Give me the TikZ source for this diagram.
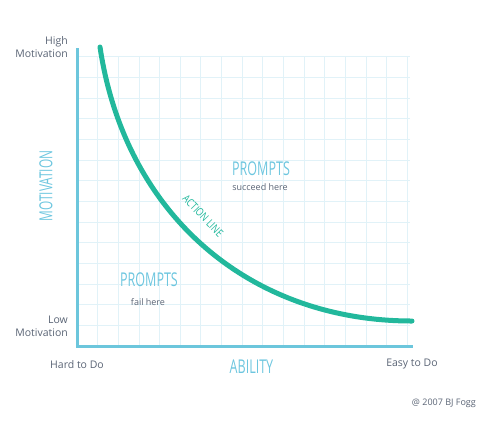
\documentclass[tikz,border=0pt]{standalone}
\usepackage{fontspec}
\setmainfont{Open Sans}
\newfontfamily\condfont[FakeStretch=0.66]{Open Sans}
\newfontfamily\smallcondfont[FakeStretch=0.8]{Open Sans}
\definecolor{gridc}{HTML}{E1F2F8}
\definecolor{axisc}{HTML}{6CC6DC}
\definecolor{curvec}{HTML}{22B89C}
\definecolor{labelc}{HTML}{5A6475}
\definecolor{bluec}{HTML}{6DC6DF}
\tikzset{
  gray label/.style={text=labelc, font=\fontsize{10.5}{13}\selectfont, inner sep=0pt},
  big label/.style={text=bluec, font=\condfont\fontsize{19}{20}\selectfont, inner sep=0pt},
  small label/.style={text=labelc, font=\fontsize{9}{11}\selectfont, inner sep=0pt},
}
\begin{document}
\begin{tikzpicture}[x=1pt,y=-1pt]
\useasboundingbox (0,0) rectangle (486,424);
% grid
\foreach \i in {1,...,16} {
  \draw[gridc, line width=0.8pt] ({77+20.64*\i},56.7) -- ({77+20.64*\i},346);
}
\foreach \j in {1,...,14} {
  \draw[gridc, line width=0.8pt] (77,{346-20.66*\j}) -- (410,{346-20.66*\j});
}
% axes
\coordinate (top) at (77,48);
\coordinate (origin) at (77,346);
\coordinate (right) at (413,346);
\draw[axisc, line width=3pt] (top) -- (origin) -- (right);
% action line
\coordinate (cstart) at (100,47);
\coordinate (cend) at (412,321);
\draw[curvec, line width=5pt, line cap=round] (cstart) .. controls (125,215) and (250,321) .. (cend);
% labels
\node[gray label, anchor=east, align=right] (high) at (68,47) {High\\Motivation};
\node[gray label, anchor=east, align=right] (low) at (68,326) {Low\\Motivation};
\node[gray label] (hard) at (77,364.5) {Hard to Do};
\node[gray label] (easy) at (412,364.5) {Easy to Do};
\node[gray label, font=\fontsize{9}{11}\selectfont, anchor=east] (copy) at (476,403.5) {@ 2007 BJ Fogg};
\node[big label] (ability) at (251.5,367) {ABILITY};
\node[big label, font=\condfont\fontsize{18}{19}\selectfont, rotate=90] (motivation) at (46,186) {MOTIVATION};
\node[big label] (p1) at (261,168.5) {PROMPTS};
\node[small label] (s1) at (260,187) {succeed here};
\node[big label] (p2) at (149,279.5) {PROMPTS};
\node[small label] (s2) at (148,302) {fail here};
\node[text=curvec, font=\smallcondfont\fontsize{11}{12}\selectfont, inner sep=0pt, rotate=-46] (al) at (203,216) {ACTION LINE};
\end{tikzpicture}
\end{document}
